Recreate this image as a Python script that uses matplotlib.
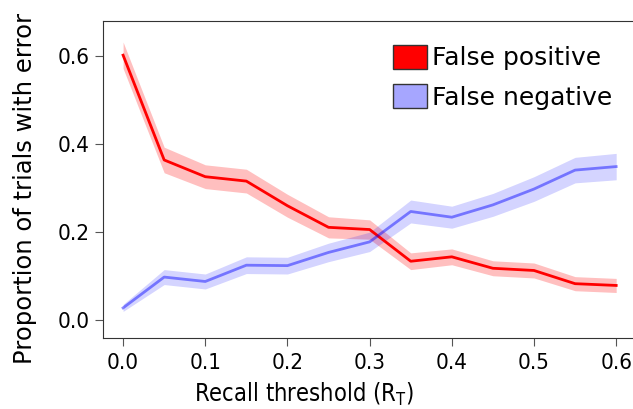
from matplotlib import pyplot as plt
from matplotlib.patches import Patch
import numpy as np

thresholds = [0.0, 0.05, 0.1, 0.15, 0.2, 0.25, 0.3, 0.35, 0.4, 0.45, 0.5, 0.55, 0.6]
false_pos = [0.602, 0.364, 0.326, 0.316, 0.260, 0.211, 0.206, 0.134, 0.144, 0.118, 0.113, 0.083, 0.079]
false_pos_err = [0.030, 0.029, 0.027, 0.027, 0.026, 0.024, 0.022, 0.019, 0.018, 0.017, 0.017, 0.016, 0.016]
false_neg = [0.028, 0.098, 0.088, 0.125, 0.124, 0.154, 0.178, 0.247, 0.234, 0.262, 0.298, 0.341, 0.349]
false_neg_err = [0.008, 0.017, 0.017, 0.019, 0.019, 0.021, 0.022, 0.026, 0.025, 0.026, 0.028, 0.029, 0.030]

x = np.array(thresholds)
fp = np.array(false_pos)
fpe = np.array(false_pos_err)
fn = np.array(false_neg)
fne = np.array(false_neg_err)

fig = plt.figure(figsize=(6.33, 4.09), dpi=100)
ax = fig.add_axes([0.162, 0.174, 0.84, 0.775])

# faixas de erro
ax.fill_between(x, fp - fpe, fp + fpe, color='red', alpha=0.25, lw=0)
ax.fill_between(x, fn - fne, fn + fne, color='blue', alpha=0.17, lw=0)
ax.plot(x, fp, color='red', lw=2)
ax.plot(x, fn, color='blue', alpha=0.45, lw=2)

ax.set_xlim(-0.025, 0.622)
ax.set_ylim(-0.04, 0.68)
ax.set_xticks([0.0, 0.1, 0.2, 0.3, 0.4, 0.5, 0.6])
ax.set_yticks([0.0, 0.2, 0.4, 0.6])
ax.set_xticklabels(['0.0', '0.1', '0.2', '0.3', '0.4', '0.5', '0.6'], fontsize=16, fontstretch='condensed')
ax.set_yticklabels(['0.0', '0.2', '0.4', '0.6'], fontsize=16, fontstretch='condensed')
ax.tick_params(direction='out', length=6, color='#555555')
ax.tick_params(axis='x', pad=5)
for s in ax.spines.values():
    s.set_color('#333333')
ax.spines['right'].set_visible(False)

ax.set_xlabel(r"Recall threshold (R$_\mathregular{T}$)", fontsize=17, fontstretch='condensed')
ax.xaxis.set_label_coords(0.379, -0.135)
ax.set_ylabel("Proportion of trials with error", fontsize=17.5)
ax.yaxis.set_label_coords(-0.124, 0.47)

handles = [Patch(facecolor='red', edgecolor='#333333', label='False positive'),
           Patch(facecolor='#a6a6ff', edgecolor='#333333', label='False negative')]
ax.legend(handles=handles, loc='upper left', frameon=False, fontsize=18,
          handlelength=1.36, handleheight=1.1, handletextpad=0.2, labelspacing=0.55,
          bbox_to_anchor=(0.503, 0.995))

fig.savefig('out.png', dpi=100)
